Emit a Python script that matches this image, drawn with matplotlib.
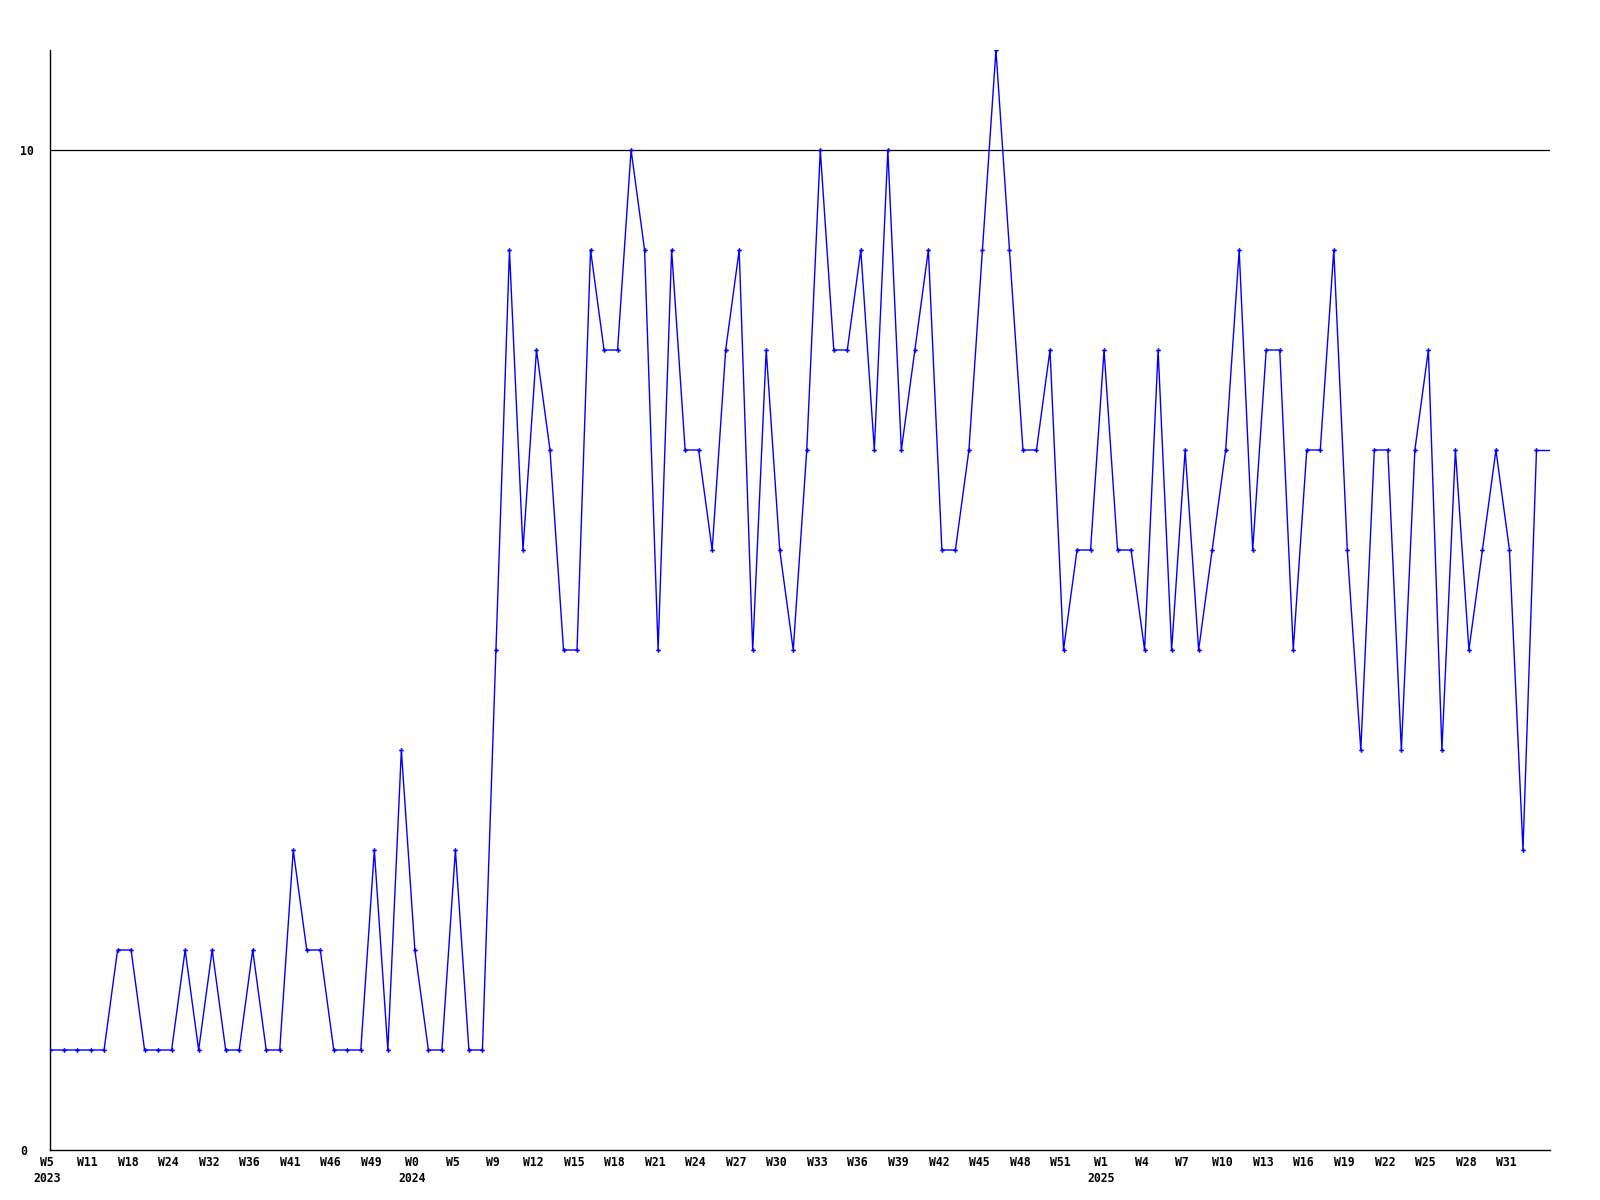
import numpy as np
import matplotlib
matplotlib.use("Agg")
import matplotlib.pyplot as plt
import matplotlib.transforms as mtransforms


# ============================
# DATA
# ============================
# weekly counts, one point per week with data
counts = [
    1, 1, 1, 1, 1, 2, 2, 1, 1, 1,
    2, 1, 2, 1, 1, 2, 1, 1, 3, 2,
    2, 1, 1, 1, 3, 1, 4, 2, 1, 1,
    3, 1, 1, 5, 9, 6, 8, 7, 5, 5,
    9, 8, 8, 10, 9, 5, 9, 7, 7, 6,
    8, 9, 5, 8, 6, 5, 7, 10, 8, 8,
    9, 7, 10, 7, 8, 9, 6, 6, 7, 9,
    11, 9, 7, 7, 8, 5, 6, 6, 8, 6,
    6, 5, 8, 5, 7, 5, 6, 7, 9, 6,
    8, 8, 5, 7, 7, 9, 6, 4, 7, 7,
    4, 7, 8, 4, 7, 5, 6, 7, 6, 3,
    7,
]

# every third point gets a label
week_labels = [
    "W5", "W11", "W18", "W24", "W32", "W36", "W41", "W46", "W49",
    "W0", "W5", "W9", "W12", "W15", "W18", "W21", "W24", "W27", "W30",
    "W33", "W36", "W39", "W42", "W45", "W48", "W51",
    "W1", "W4", "W7", "W10", "W13", "W16", "W19", "W22", "W25", "W28", "W31",
]
# year shown under the first label of each year (index into week_labels)
year_labels = {0: "2023", 9: "2024", 26: "2025"}
label_step = 3

y_ticks = [0, 10]


# ============================
# PLOT
# ============================
x = np.arange(len(counts))
x_max = len(counts)

fig = plt.figure(figsize=(16, 12), dpi=100)
ax = fig.add_axes([50 / 1600, 50 / 1200, 1500 / 1600, 1100 / 1200])

ax.axhline(10, color="black", lw=0.9, zorder=1)
ax.plot(x, counts, color="#0000ff", lw=1.0, marker="P", markersize=3.3,
        markeredgewidth=0, zorder=3)
# last value carried on to the right edge
ax.plot([x[-1], x_max], [counts[-1], counts[-1]], color="#0000ff", lw=1.0, zorder=3)

ax.set_xlim(0, x_max)
ax.set_ylim(0, max(counts))

tick_pos = x[::label_step][:len(week_labels)]
labels = []
for i, w in enumerate(week_labels):
    if i in year_labels:
        labels.append(w + "\n" + year_labels[i])
    else:
        labels.append(w)
ax.set_xticks(tick_pos)
ax.set_xticklabels(labels, fontfamily="DejaVu Sans Mono", fontweight="bold",
                   fontsize=8.3, linespacing=1.3, va="top")
ax.tick_params(axis="x", length=0, pad=4.5)
shift = mtransforms.ScaledTranslation(-3 / 100, 0, fig.dpi_scale_trans)
for lab in ax.get_xticklabels():
    lab.set_transform(lab.get_transform() + shift)

ax.set_yticks(y_ticks)
ax.set_yticklabels([str(t) for t in y_ticks], fontfamily="DejaVu Sans Mono",
                   fontweight="bold", fontsize=8.3)
ax.tick_params(axis="y", length=0, pad=21.6)
for lab in ax.get_yticklabels():
    lab.set_horizontalalignment("left")

for side in ["top", "right"]:
    ax.spines[side].set_visible(False)
for side in ["left", "bottom"]:
    ax.spines[side].set_color("black")
    ax.spines[side].set_linewidth(1.0)

fig.savefig("out.png", dpi=100, facecolor="white")
